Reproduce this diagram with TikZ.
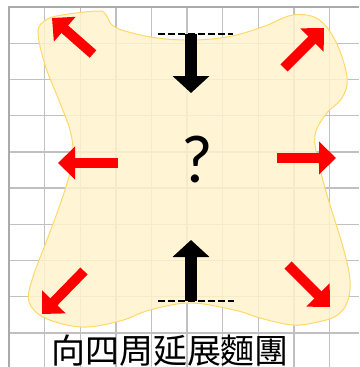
\documentclass[tikz,border=0pt]{standalone}
\usepackage{fontspec}
\setmainfont{Carlito}
\newfontfamily\cjk{Noto Sans CJK TC}
\usetikzlibrary{arrows.meta}
\definecolor{blobfill}{RGB}{255,242,204}
\definecolor{blobline}{RGB}{255,217,102}
\definecolor{gridc}{RGB}{192,192,192}
\definecolor{gridb}{RGB}{170,170,170}
\tikzset{
  gridline/.style={draw=gridc, line width=1.4pt},
  gridborder/.style={draw=gridb, line width=2.8pt},
  redarrow/.style={draw=red, line width=10pt, -{Triangle[length=17pt,width=32pt]}},
  blackarrow/.style={draw=black, line width=12pt, -{Triangle[length=17pt,width=36pt]}},
  dashline/.style={draw=black, line width=2pt, dash pattern=on 7pt off 3pt},
}
\begin{document}
\begin{tikzpicture}[x=1pt,y=-1pt]
\useasboundingbox (0,0) rectangle (359,367);
% grid
\foreach \k in {1,...,9} {\draw[gridline] ({9+35.6*\k},7) -- ({9+35.6*\k},367);}
\foreach \k in {1,...,9} {\draw[gridline] (9,{7+36.2*\k}) -- (359,{7+36.2*\k});}
\draw[gridborder] (9,367) -- (9,7) -- (359,7);
% blob
\def\blobpts{(38,32) (46,20) (62,15) (98,11) (106,15) (112,25) (125,31) (157,38) (195,40) (232,36) (265,26) (293,15) (318,19) (336,42) (347,77) (342,98) (326,114) (315,135) (318,160) (327,195) (343,247) (350,280) (347,303) (336,316) (318,322) (300,325) (285,324) (260,318) (234,310) (190,303) (150,310) (120,321) (82,327) (45,318) (29,302) (32,280) (45,245) (57,213) (68,180) (73,155) (70,130) (58,98) (45,65)}
\fill[blobfill, fill opacity=0.85] plot[smooth cycle, tension=0.6] coordinates {\blobpts};
\draw[blobline, line width=1pt] plot[smooth cycle, tension=0.6] coordinates {\blobpts};
% coordinates
\coordinate (tlA) at (93,54); \coordinate (tlB) at (52,18);
\coordinate (trA) at (284,68); \coordinate (trB) at (324,28);
\coordinate (lA) at (118,163); \coordinate (lB) at (58,163);
\coordinate (rA) at (277,158); \coordinate (rB) at (336,158);
\coordinate (blA) at (84,271); \coordinate (blB) at (42,314);
\coordinate (brA) at (288,265); \coordinate (brB) at (330,307);
\coordinate (dA) at (191,34); \coordinate (dB) at (191,93);
\coordinate (uA) at (191,301); \coordinate (uB) at (191,240);
\coordinate (tdL) at (158,34); \coordinate (tdR) at (233,34);
\coordinate (bdL) at (158,301); \coordinate (bdR) at (234,301);
% red arrows
\draw[redarrow] (tlA) -- (tlB);
\draw[redarrow] (trA) -- (trB);
\draw[redarrow] (lA) -- (lB);
\draw[redarrow] (rA) -- (rB);
\draw[redarrow] (blA) -- (blB);
\draw[redarrow] (brA) -- (brB);
% black arrows and dashed lines
\draw[blackarrow] (dA) -- (dB);
\draw[blackarrow] (uA) -- (uB);
\draw[dashline] (tdL) -- (tdR);
\draw[dashline] (bdL) -- (bdR);
% texts
\node[inner sep=0pt] (q) at (197,160) {\fontsize{68}{68}\selectfont ?};
\node[inner sep=0pt, anchor=base] (cap) at (170,363) {\cjk\fontsize{34}{34}\selectfont 向四周延展麵團};
\end{tikzpicture}
\end{document}
